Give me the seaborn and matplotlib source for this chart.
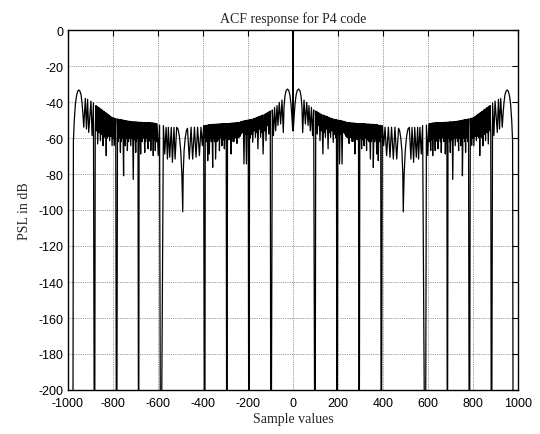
import matplotlib
matplotlib.use("Agg")
import matplotlib.pyplot as plt
import seaborn as sns
import pandas as pd

# Autocorrelation magnitude (dB) of the P4 code, lags 0..979, given as
# (lag, dB) vertices alternating between peaks and troughs.  The response is
# symmetric about lag 0.  -300 dB marks the numerical zeros that fall below
# the -200 dB floor of the plot.
seg_mainlobe = [
    (0, 0), (1, -56), (5, -48), (9, -41), (14, -36), (19, -33.5), (25, -32.8),
    (31, -33.8), (36, -37), (40, -43), (43, -57),
]
seg_decay = [
    (49, -38.9), (55, -52.2), (61, -40.2), (67, -53), (71, -42), (77, -56),
    (82, -43), (87, -58.7), (92, -44.4), (98, -300), (101, -45.0), (104, -55),
    (106, -45.4), (108, -57.8), (111, -45.8), (114, -53), (116, -46.2),
    (120, -61.5), (123, -46.6), (126, -56), (128, -47), (133, -68.9),
    (136, -47.3), (139, -57), (141, -47.6), (144, -59.6), (147, -47.9),
    (150, -55), (152, -48.1), (156, -66), (159, -48.5), (162, -57),
    (164, -48.8), (167, -59.6), (170, -49.1), (173, -56), (175, -49.3),
    (179, -62.4), (182, -49.5), (185, -58), (188, -49.7), (191, -60),
    (193, -49.8), (196, -300), (199, -50), (202, -58), (204, -50.1),
    (207, -74.4), (210, -50.3), (213, -58), (215, -50.4), (218, -74.4),
    (221, -50.6), (224, -57), (226, -50.7), (230, -57.8), (233, -51),
    (235, -59), (237, -51.3),
]
seg_plateau_1 = [
    (240, -59.6), (242, -51.4), (245, -60), (247, -51.5), (249, -63),
    (251, -51.5), (254, -59), (256, -51.6), (258, -60), (261, -51.6),
    (263, -62), (265, -51.7), (268, -60), (270, -51.7), (272, -62),
    (273, -51.8), (275, -68.9), (277, -51.8), (280, -60), (282, -51.9),
    (285, -61), (287, -52), (290, -60), (291, -52), (294, -300), (297, -52),
    (299, -60), (302, -52), (305, -66), (307, -52), (310, -61), (313, -52),
    (316, -64.3), (318, -52.1), (321, -60), (324, -52.1), (327, -67),
    (329, -52.2), (332, -61), (335, -52.2), (338, -62), (340, -52.3),
    (344, -71.7), (346, -52.3), (349, -62), (352, -52.4), (354, -60),
    (355, -52.4), (357, -76.3), (360, -52.5), (363, -62), (365, -52.5),
    (367, -60), (369, -52.6), (372, -68.9), (374, -52.7), (376, -61),
    (377, -52.8), (379, -72.6), (382, -52.9), (385, -62), (387, -53),
    (389, -60), (390, -53), (392, -300),
]
seg_midpoint = [
    (397, -53.1), (403, -64.3), (409, -54), (416, -69.8), (424, -54),
    (431, -70.7), (438, -54), (446, -71.7), (453, -54), (461, -71.7),
    (469, -54.6), (474, -56), (479, -60), (484, -67), (488, -80), (490, -101),
    (494, -80), (499, -67), (505, -59), (511, -55), (517, -54.1),
    (524, -71.7), (529, -54.1), (536, -73.5), (541, -54.1), (548, -70.7),
    (554, -54.1), (558, -71.7), (564, -54.1), (570, -68.9), (576, -53.1),
    (588, -300), (593, -52.8), (599, -69.8),
]
seg_plateau_2 = [
    (604, -52.2), (607, -62), (609, -52), (612, -67), (614, -51.8),
    (617, -61), (619, -51.7), (621, -69.8), (624, -51.6), (627, -60),
    (629, -51.6), (632, -67), (634, -51.5), (637, -61), (639, -51.5),
    (641, -62), (642, -51.5), (644, -66), (647, -51.5), (650, -60),
    (652, -51.4), (655, -62), (657, -51.4), (659, -68), (662, -51.4),
    (665, -60), (667, -51.4), (670, -62), (672, -51.3), (674, -60),
    (675, -51.3), (677, -68.9), (680, -51.3), (683, -60), (684, -51.2),
    (686, -300), (689, -51.2), (692, -60), (694, -51.1), (696, -62),
    (697, -51.1), (699, -68), (702, -51), (705, -61), (707, -51), (710, -83),
    (713, -51), (716, -60), (718, -50.9), (721, -64.3), (724, -50.8),
    (727, -60), (729, -50.7), (731, -62), (733, -50.6), (736, -67),
    (738, -50.5), (741, -60), (743, -50.4), (745, -64.3), (747, -50.3),
    (750, -60), (751, -50.2), (753, -81), (756, -50), (759, -60),
    (761, -49.9), (764, -62), (765, -49.8), (767, -68), (770, -49.7),
    (773, -60), (775, -49.6), (778, -62), (780, -49.4), (784, -300),
]
seg_rise = [
    (788, -49.2), (790, -60), (792, -49.1), (794, -64), (796, -49),
    (799, -60), (801, -48.7), (804, -64.3), (807, -48.3), (810, -59),
    (812, -47.9), (815, -61.5), (818, -47.3), (821, -59), (823, -46.8),
    (826, -60), (828, -46.3), (830, -69.8), (833, -45.9), (836, -59),
    (838, -45.5), (841, -60), (842, -45.1), (844, -64.3), (847, -44.5),
    (850, -58), (852, -44.1), (856, -61.5), (859, -43.4), (862, -57),
    (864, -43), (868, -63.3), (871, -42.4), (874, -56), (876, -42),
    (879, -58), (882, -300), (887, -40.5), (893, -58.7), (898, -39.5),
    (908, -56.9), (913, -38.5), (918, -55), (923, -38), (930, -54),
]
seg_edge_lobe = [
    (934, -46), (938, -40), (942, -36), (947, -34), (952, -33.3), (957, -34),
    (962, -36.5), (967, -41), (972, -50), (976, -62), (979, -300),
]

x_ticks = [-1000, -800, -600, -400, -200, 0, 200, 400, 600, 800, 1000]
y_ticks = [0, -20, -40, -60, -80, -100, -120, -140, -160, -180, -200]

half = (seg_mainlobe + seg_decay + seg_plateau_1 + seg_midpoint
        + seg_plateau_2 + seg_rise + seg_edge_lobe)
half_lag = [p[0] for p in half]
half_db = [p[1] for p in half]
lag = [-v for v in reversed(half_lag[1:])] + half_lag
psl = list(reversed(half_db[1:])) + half_db
df = pd.DataFrame({"Sample values": lag, "PSL in dB": psl})

sns.set_theme(style="white")
plt.rcParams["font.family"] = ["Liberation Sans", "DejaVu Sans"]

fig = plt.figure(figsize=(5.4, 4.35), dpi=100)
ax = fig.add_axes([68 / 540, 1 - 391 / 435, 450 / 540, 360 / 435])

sns.lineplot(data=df, x="Sample values", y="PSL in dB", ax=ax,
             sort=False, estimator=None, color="black", linewidth=0.9)

ax.set_xlim(-1000, 1000)
ax.set_ylim(-200, 0)
ax.set_xticks(x_ticks)
ax.set_yticks(y_ticks)
ax.set_xticklabels([str(v) for v in x_ticks])
ax.set_yticklabels([str(v) for v in y_ticks])
ax.tick_params(direction="in", top=True, right=True, length=4, width=0.8,
               labelsize=9, colors="black")
ax.tick_params(axis="x", pad=5)
ax.tick_params(axis="y", pad=3)
ax.grid(True, linestyle=(0, (1, 1.2)), color="#7a7a7a", linewidth=0.6)
for s in ax.spines.values():
    s.set_color("black")
    s.set_linewidth(1.0)

serif = ["Liberation Serif", "DejaVu Serif"]
ax.set_title("ACF response for P4 code", family=serif, fontsize=10, pad=6)
ax.set_xlabel("Sample values", family=serif, fontsize=10, labelpad=2)
ax.set_ylabel("PSL in dB", family=serif, fontsize=10, labelpad=6)

fig.savefig("out.png", dpi=100, facecolor="white")
